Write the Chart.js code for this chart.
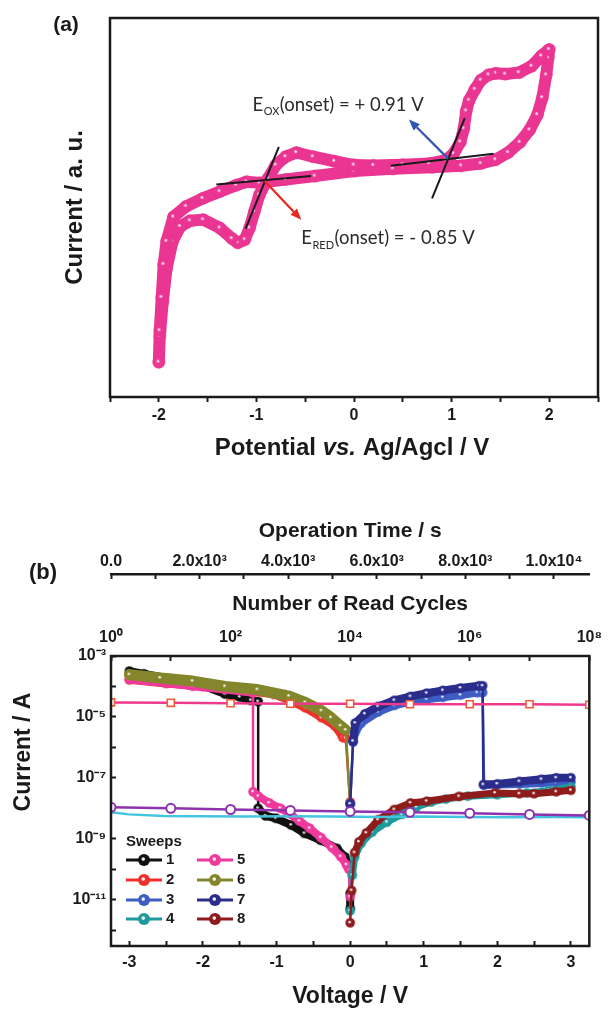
<!DOCTYPE html>
<html><head><meta charset="utf-8">
<script src="https://cdn.jsdelivr.net/npm/chart.js@4.4.1/dist/chart.umd.min.js"></script>
<style>
html,body{margin:0;padding:0;background:#fff;}
#wrap{position:relative;width:616px;height:1010px;overflow:hidden;background:#fff;}
#ca{position:absolute;left:0;top:0;width:616px;height:480px;}
#cb{position:absolute;left:0;top:480px;width:616px;height:530px;}
</style></head><body>
<div id="wrap"><canvas id="ca" width="616" height="480"></canvas><canvas id="cb" width="616" height="530"></canvas></div>
<script>
// ================= Panel (a): cyclic voltammogram =================
const cvPotential = [0.0,-0.2,-0.42,-0.59,-0.7,-0.8,-0.88,-0.97,-1.02,-1.07,-1.12,-1.19,-1.25,-1.375,-1.545,-1.68,-1.78,-1.86,-1.92,-1.96,-1.99,-2.0,
  -1.99,-1.97,-1.95,-1.92,-1.85,-1.72,-1.55,-1.375,-1.205,-1.1,-0.97,-0.7,-0.4,0.0,0.4,0.8,1.1,1.3,1.45,1.58,1.7,1.8,1.88,1.93,1.97,1.99,2.0,
  1.92,1.82,1.69,1.55,1.45,1.38,1.3,1.24,1.18,1.15,1.125,1.09,1.02,0.94,0.77,0.5,0.2,0.0];
const cvCurrent = [61.2,62.2,63.4,64.5,63.4,61.2,57.7,53.3,49.0,44.6,41.5,40.7,41.8,44.6,46.8,46.5,45.0,41.0,34.0,25.0,16.0,9.2,
  17.5,26.3,35.0,41.1,47.5,50.3,52.4,54.2,55.9,56.8,56.5,57.4,58.3,59.6,60.2,60.6,61.0,61.6,62.6,64.5,67.2,70.5,74.5,79.0,85.0,89.5,91.7,
  90.0,87.3,85.6,85.2,85.4,85.0,83.6,81.2,78.3,75.5,70.8,67.3,64.2,62.5,61.6,61.3,61.1,61.2];
const cvTicks = [-2.5,-2,-1.5,-1,-0.5,0,0.5,1,1.5,2,2.5];
const cvTickLabels = ['','-2','','-1','','0','','1','','2',''];
// onset tangent lines
const redFlatX = [-1.41,-0.44], redFlatY = [56.1,58.3];
const redSteepX = [-1.11,-0.77], redSteepY = [44.4,66.0];
const oxFlatX = [0.377,1.43], oxFlatY = [61.0,64.2];
const oxSteepX = [0.80,1.135], oxSteepY = [52.4,73.6];
// arrows and labels
const redArrowX = [-0.916,-0.54], redArrowY = [57.0,46.8];
const blueArrowX = [0.964,0.563], blueArrowY = [62.9,73.2];
const oxLabelPos = [-1.04,77.3];
const redLabelPos = [-0.54,42.0];

// ================= Panel (b): I-V sweeps and retention =================
const s1V = [0,0,-0.02,-0.07,-0.18,-0.4,-0.62,-0.8,-1.01,-1.15,-1.25,-1.25,-1.35,-1.5,-1.7,-2.0,-2.5,-2.8,-3.0];
const s1I = [5.0e-12,1.6e-11,1.26e-10,2.5e-10,4.8e-10,8.9e-10,1.5e-9,2.8e-9,4.7e-9,5.6e-9,1.0e-8,3.2e-5,3.5e-5,4.5e-5,5.6e-5,1.05e-4,1.9e-4,2.6e-4,3.2e-4];
const s2V = [-3.0,-2.5,-2.0,-1.5,-1.04,-0.83,-0.61,-0.39,-0.21,-0.1,-0.06,0.0];
const s2I = [1.66e-4,1.26e-4,1.0e-4,7.6e-5,5.5e-5,3.5e-5,2.0e-5,9.5e-6,5.1e-6,2.1e-6,2.0e-6,1.6e-8];
const s3V = [0.0,0.04,0.07,0.15,0.38,0.6,0.82,1.04,1.26,1.5,1.73,1.8,1.82,2.0,2.3,2.6,2.8,3.0];
const s3I = [1.4e-8,1.5e-6,3.2e-6,6.3e-6,1.45e-5,2.4e-5,3.2e-5,3.8e-5,4.4e-5,5.2e-5,6.3e-5,6.3e-5,5.8e-8,6.0e-8,6.3e-8,6.8e-8,7.1e-8,7.2e-8];
const s4V = [0.0,0.03,0.06,0.15,0.3,0.5,0.7,0.9,1.1,1.3,1.6,2.0,2.4,2.7,3.0];
const s4I = [4.3e-12,6.3e-11,2.5e-10,7.1e-10,1.66e-9,3.5e-9,6.3e-9,1.1e-8,1.6e-8,2.0e-8,2.5e-8,2.8e-8,3.2e-8,3.8e-8,5.0e-8];
const s5V = [0,-0.02,-0.05,-0.13,-0.25,-0.4,-0.55,-0.69,-0.83,-0.95,-1.1,-1.25,-1.32,-1.32,-1.7,-2.14,-2.5,-3.0];
const s5I = [1.26e-11,1.0e-10,1.4e-10,2.6e-10,5.2e-10,1.1e-9,2.2e-9,3.8e-9,6.8e-9,1.0e-8,1.5e-8,2.5e-8,3.5e-8,6.2e-5,7.9e-5,1.02e-4,1.3e-4,1.7e-4];
const s6V = [-3.0,-2.58,-2.14,-1.7,-1.26,-0.83,-0.61,-0.39,-0.26,-0.13,-0.06,0.0];
const s6I = [2.45e-4,1.9e-4,1.5e-4,1.0e-4,7.9e-5,4.8e-5,3.0e-5,1.6e-5,9.5e-6,5.1e-6,3.7e-6,1.4e-8];
const s7V = [0.0,0.04,0.07,0.2,0.38,0.6,0.82,1.04,1.26,1.5,1.75,1.8,1.81,2.0,2.3,2.6,2.8,3.0];
const s7I = [1.4e-8,1.6e-6,6.3e-6,1.26e-5,2.2e-5,3.5e-5,4.7e-5,6.0e-5,7.4e-5,8.9e-5,1.05e-4,1.05e-4,6.0e-8,6.3e-8,7.6e-8,8.9e-8,1.0e-7,1.0e-7];
const s8V = [0.0,0.02,0.06,0.12,0.22,0.38,0.6,0.82,1.04,1.48,1.97,2.3,2.5,2.8,3.0];
const s8I = [1.74e-12,2.0e-11,3.5e-10,7.9e-10,1.55e-9,4.2e-9,9.1e-9,1.5e-8,1.7e-8,2.45e-8,3.2e-8,3.0e-8,3.0e-8,3.5e-8,3.9e-8];
const sweepLabels = ['1','2','3','4','5','6','7','8'];
const sweepColors = ['#111111','#f0302c','#3d5cc4','#1f9a9c','#f0399c','#84862c','#2b2d8c','#8e1c1c'];
// retention
const readCycles = [1,10,100,1e3,1e4,1e5,1e6,1e7,1e8];
const onCurrent = [3.0e-5,2.9e-5,2.8e-5,2.7e-5,2.7e-5,2.6e-5,2.6e-5,2.6e-5,2.5e-5];
const offCurrent = [1.07e-8,1.0e-8,9.1e-9,8.5e-9,7.9e-9,7.4e-9,6.9e-9,6.3e-9,5.8e-9];
const opTime = [0,400,1200,2000,3000,4000,5000,6000,7000,8000,9000,10000,10800];
const opTimeCurrent = [7.4e-9,6.3e-9,5.6e-9,5.5e-9,5.4e-9,5.5e-9,5.4e-9,5.2e-9,5.4e-9,5.2e-9,5.1e-9,5.2e-9,5.1e-9];
// tick labels
const voltageTicks = [-3,-2.5,-2,-1.5,-1,-0.5,0,0.5,1,1.5,2,2.5,3];
const voltageTickLabels = ['-3','','-2','','-1','','0','','1','','2','','3'];
const currentTicks = [1e-12,1e-11,1e-10,1e-9,1e-8,1e-7,1e-6,1e-5,1e-4,1e-3];
const currentTickLabels = ['','10⁻¹¹','','10⁻⁹','','10⁻⁷','','10⁻⁵','','10⁻³'];
const cycleTicks = [1,10,100,1e3,1e4,1e5,1e6,1e7,1e8];
const cycleTickLabels = ['10⁰','','10²','','10⁴','','10⁶','','10⁸'];
const timeTicks = [0,1000,2000,3000,4000,5000,6000,7000,8000,9000,10000];
const timeTickLabels = ['0.0','','2.0x10³','','4.0x10³','','6.0x10³','','8.0x10³','','1.0x10⁴'];

// ================= helpers =================
const FONT = '"Liberation Sans", Arial, Helvetica, sans-serif';
const INK = '#1a1a1a';
const PINK_A = '#ea3592';
const zip = (xs, ys) => xs.map((x, i) => ({x: x, y: ys[i]}));
function makeDot(color, r, hi, alpha) {
  const c = document.createElement('canvas');
  const s = Math.ceil(2 * r + 2);
  c.width = s; c.height = s;
  const g = c.getContext('2d');
  g.fillStyle = color; g.beginPath(); g.arc(s / 2, s / 2, r, 0, Math.PI * 2); g.fill();
  g.fillStyle = 'rgba(255,255,255,' + (alpha || 0.92) + ')'; g.beginPath(); g.arc(s / 2 - r * 0.12, s / 2 - r * 0.15, hi, 0, Math.PI * 2); g.fill();
  return c;
}
const boxPlugin = {
  id: 'boxFrame',
  afterDatasetsDraw(chart) {
    const {ctx, chartArea: a} = chart;
    ctx.save(); ctx.strokeStyle = INK; ctx.lineWidth = 2.5;
    ctx.strokeRect(a.left, a.top, a.right - a.left, a.bottom - a.top);
    ctx.restore();
  }
};
function drawArrow(ctx, x0, y0, x1, y1, color) {
  const ang = Math.atan2(y1 - y0, x1 - x0), L = 11, W = 4.5;
  const bx = x1 - L * Math.cos(ang), by = y1 - L * Math.sin(ang);
  ctx.save(); ctx.strokeStyle = color; ctx.fillStyle = color; ctx.lineWidth = 2.2;
  ctx.beginPath(); ctx.moveTo(x0, y0); ctx.lineTo(bx, by); ctx.stroke();
  ctx.beginPath(); ctx.moveTo(x1, y1);
  ctx.lineTo(bx + W * Math.sin(ang), by - W * Math.cos(ang));
  ctx.lineTo(bx - W * Math.sin(ang), by + W * Math.cos(ang));
  ctx.closePath(); ctx.fill(); ctx.restore();
}
function drawSubLabel(ctx, main, sub, rest, x, yc) {
  const big = '18.5px Lato, "Open Sans", sans-serif', small = '11px Lato, "Open Sans", sans-serif';
  const base = yc + 6.6;
  ctx.save(); ctx.fillStyle = '#2b2b2b'; ctx.textAlign = 'left'; ctx.textBaseline = 'alphabetic';
  ctx.font = big; ctx.fillText(main, x, base); let w = ctx.measureText(main).width;
  ctx.font = small; ctx.fillText(sub, x + w + 0.5, base + 4.5); w += ctx.measureText(sub).width + 1;
  ctx.font = big; ctx.fillText(rest, x + w, base);
  ctx.restore();
}
function drawMixed(ctx, parts, cx, cy) {
  let total = 0;
  parts.forEach(p => { ctx.font = p.f; p.w = ctx.measureText(p.t).width; total += p.w; });
  let x = cx - total / 2;
  ctx.save(); ctx.fillStyle = INK; ctx.textAlign = 'left'; ctx.textBaseline = 'middle';
  parts.forEach(p => { ctx.font = p.f; ctx.fillText(p.t, x, cy); x += p.w; });
  ctx.restore();
}
const annotA = {
  id: 'annotA',
  afterDraw(chart) {
    const {ctx, scales: {x, y}} = chart;
    drawArrow(ctx, x.getPixelForValue(redArrowX[0]), y.getPixelForValue(redArrowY[0]), x.getPixelForValue(redArrowX[1]), y.getPixelForValue(redArrowY[1]), '#e8281e');
    drawArrow(ctx, x.getPixelForValue(blueArrowX[0]), y.getPixelForValue(blueArrowY[0]), x.getPixelForValue(blueArrowX[1]), y.getPixelForValue(blueArrowY[1]), '#2f56b0');
    drawSubLabel(ctx, 'E', 'OX', '(onset) = + 0.91 V', x.getPixelForValue(oxLabelPos[0]), y.getPixelForValue(oxLabelPos[1]));
    drawSubLabel(ctx, 'E', 'RED', '(onset) = - 0.85 V', x.getPixelForValue(redLabelPos[0]), y.getPixelForValue(redLabelPos[1]));
    ctx.save(); ctx.fillStyle = INK; ctx.font = 'bold 21px ' + FONT; ctx.textAlign = 'center'; ctx.textBaseline = 'middle';
    ctx.fillText('(a)', 66, 25); ctx.restore();
    drawMixed(ctx, [
      {t: 'Potential ', f: 'bold 24px ' + FONT},
      {t: 'vs.', f: 'italic bold 24px ' + FONT},
      {t: ' Ag/Agcl / V', f: 'bold 24px ' + FONT}
    ], 352, 448);
  }
};

// ================= Chart (a) =================
const tangent = (xs, ys) => ({data: zip(xs, ys), borderColor: INK, borderWidth: 2, pointRadius: 0, order: 1});
new Chart(document.getElementById('ca'), {
  type: 'line',
  data: {datasets: [
    tangent(redFlatX, redFlatY), tangent(redSteepX, redSteepY),
    tangent(oxFlatX, oxFlatY), tangent(oxSteepX, oxSteepY),
    {data: zip(cvPotential, cvCurrent), borderColor: PINK_A, backgroundColor: PINK_A, borderWidth: 12,
     borderJoinStyle: 'round', borderCapStyle: 'round', pointStyle: makeDot(PINK_A, 6.2, 1.5, 0.75), pointRadius: 6, order: 5}
  ]},
  options: {
    responsive: false, animation: false, devicePixelRatio: 1, events: [],
    layout: {padding: {top: 15, right: 15, left: 0, bottom: 0}},
    plugins: {legend: {display: false}, tooltip: {enabled: false}},
    scales: {
      x: {type: 'linear', min: -2.5, max: 2.5,
        afterBuildTicks: s => { s.ticks = cvTicks.map(v => ({value: v})); },
        ticks: {autoSkip: false, maxRotation: 0, padding: 4, color: INK, font: {family: FONT, size: 16, weight: 'bold'},
          callback: (v, i) => cvTickLabels[i]},
        grid: {drawOnChartArea: false, tickLength: 5, tickWidth: 2, color: INK},
        border: {display: false},
        afterFit: s => { s.height = 83; }},
      y: {type: 'linear', min: 0, max: 100,
        ticks: {display: false}, grid: {display: false}, border: {display: false},
        title: {display: true, text: 'Current / a. u.', color: INK, font: {family: FONT, size: 24, weight: 'bold'}, padding: {top: 61, bottom: 0}},
        afterFit: s => { s.width = 110; }}
    }
  },
  plugins: [boxPlugin, annotA]
});

// ================= Chart (b) =================
function sweepSet(v, cur, idx, order, width) {
  const color = sweepColors[idx];
  return {label: sweepLabels[idx], data: zip(v, cur), xAxisID: 'x', yAxisID: 'y',
    borderColor: color, backgroundColor: color, borderWidth: width, borderJoinStyle: 'round', borderCapStyle: 'round',
    pointStyle: makeDot(color, 4.8, 1.3), pointRadius: 4.8, order: order,
    segment: {borderWidth: c => (Math.abs(c.p1.parsed.x - c.p0.parsed.x) < 0.08 &&
      Math.abs(Math.log10(c.p1.parsed.y / c.p0.parsed.y)) > 0.7) ? 2.5 : undefined}};
}
const annotB = {
  id: 'annotB',
  afterDraw(chart) {
    const {ctx} = chart;
    ctx.save(); ctx.fillStyle = INK; ctx.textBaseline = 'middle';
    ctx.font = 'bold 22px ' + FONT; ctx.textAlign = 'center'; ctx.fillText('(b)', 43, 93);
    ctx.save(); ctx.translate(24, 272); ctx.rotate(-Math.PI / 2);
    ctx.font = 'bold 23px ' + FONT; ctx.fillText('Current / A', 0, 0); ctx.restore();
    ctx.font = 'bold 15px ' + FONT; ctx.textAlign = 'left'; ctx.fillText('Sweeps', 126, 362);
    const rowY = [380, 400, 420, 439];
    const lx0 = [126, 197], lx1 = [162, 233], dx = [144, 215], tx = [166, 237];
    sweepLabels.forEach((lab, i) => {
      const col = i < 4 ? 0 : 1, yy = rowY[i % 4], color = sweepColors[i];
      ctx.strokeStyle = color; ctx.lineWidth = 3; ctx.beginPath(); ctx.moveTo(lx0[col], yy); ctx.lineTo(lx1[col], yy); ctx.stroke();
      const dot = makeDot(color, 6, 1.8); ctx.drawImage(dot, dx[col] - dot.width / 2, yy - dot.height / 2);
      ctx.fillStyle = INK; ctx.fillText(lab, tx[col], yy);
    });
    ctx.restore();
  }
};
const tickFont = {family: FONT, size: 16, weight: 'bold'};
new Chart(document.getElementById('cb'), {
  type: 'line',
  data: {datasets: [
    {data: zip(readCycles, onCurrent), xAxisID: 'xCycles', yAxisID: 'y', borderColor: '#ee3a8c', borderWidth: 2.5,
      pointStyle: 'rect', pointRadius: 5, pointBorderColor: '#f25a3a', pointBackgroundColor: '#ffffff', pointBorderWidth: 1.6, order: 1},
    {data: zip(readCycles, offCurrent), xAxisID: 'xCycles', yAxisID: 'y', borderColor: '#8e32ad', borderWidth: 2.5,
      pointStyle: 'circle', pointRadius: 4.5, pointBorderColor: '#8e32ad', pointBackgroundColor: '#ffffff', pointBorderWidth: 2, order: 2},
    {data: zip(opTime, opTimeCurrent), xAxisID: 'xTime', yAxisID: 'y', borderColor: '#44c4de', borderWidth: 2.5, pointRadius: 0, order: 3},
    sweepSet(s8V, s8I, 7, 10, 7), sweepSet(s4V, s4I, 3, 11, 7),
    sweepSet(s7V, s7I, 6, 12, 8), sweepSet(s3V, s3I, 2, 13, 8),
    sweepSet(s6V, s6I, 5, 14, 11), sweepSet(s5V, s5I, 4, 15, 8),
    sweepSet(s2V, s2I, 1, 16, 8), sweepSet(s1V, s1I, 0, 17, 8)
  ]},
  options: {
    responsive: false, animation: false, devicePixelRatio: 1, events: [],
    layout: {padding: {top: 0, right: 11, left: 0, bottom: 0}},
    plugins: {legend: {display: false}, tooltip: {enabled: false}},
    scales: {
      x: {type: 'linear', position: 'bottom', min: -3.25, max: 3.25,
        afterBuildTicks: s => { s.ticks = voltageTicks.map(v => ({value: v})); },
        ticks: {autoSkip: false, maxRotation: 0, padding: 12, color: INK, font: tickFont, callback: (v, i) => voltageTickLabels[i]},
        grid: {drawOnChartArea: false, tickLength: -5, tickWidth: 2, color: INK},
        border: {display: false},
        title: {display: true, text: 'Voltage / V', color: INK, font: {family: FONT, size: 23, weight: 'bold'}, padding: {top: 0, bottom: 0}},
        afterFit: s => { s.height = 64; }},
      y: {type: 'logarithmic', position: 'left', min: 3.1623e-13, max: 1e-3,
        afterBuildTicks: s => { s.ticks = currentTicks.map(v => ({value: v})); },
        ticks: {autoSkip: false, padding: 10, color: INK, font: tickFont, callback: (v, i) => currentTickLabels[i]},
        grid: {drawOnChartArea: false, tickLength: -5, tickWidth: 2, color: INK},
        border: {display: false},
        afterFit: s => { s.width = 111; }},
      xCycles: {type: 'logarithmic', position: 'top', min: 1, max: 1e8, weight: 0,
        afterBuildTicks: s => { s.ticks = cycleTicks.map(v => ({value: v})); },
        ticks: {autoSkip: false, maxRotation: 0, padding: 14, color: INK, font: tickFont, callback: (v, i) => cycleTickLabels[i]},
        grid: {drawOnChartArea: false, tickLength: -5, tickWidth: 2, color: INK},
        border: {display: false},
        title: {display: true, text: 'Number of Read Cycles', color: INK, font: {family: FONT, size: 21, weight: 'bold'}, padding: {top: 18, bottom: 0}},
        afterFit: s => { s.height = 82; }},
      xTime: {type: 'linear', position: 'top', min: 0, max: 10800, weight: 10,
        afterBuildTicks: s => { s.ticks = timeTicks.map(v => ({value: v})); },
        ticks: {autoSkip: false, maxRotation: 0, padding: 7.5, color: INK, font: tickFont, callback: (v, i) => timeTickLabels[i]},
        grid: {drawOnChartArea: false, tickLength: -5, tickWidth: 2, color: INK},
        border: {display: true, width: 2.5, color: INK},
        title: {display: true, text: 'Operation Time / s', color: INK, font: {family: FONT, size: 21, weight: 'bold'}, padding: {top: 39, bottom: 0}},
        afterFit: s => { s.height = 94; }}
    }
  },
  plugins: [boxPlugin, annotB]
});
</script></body></html>
